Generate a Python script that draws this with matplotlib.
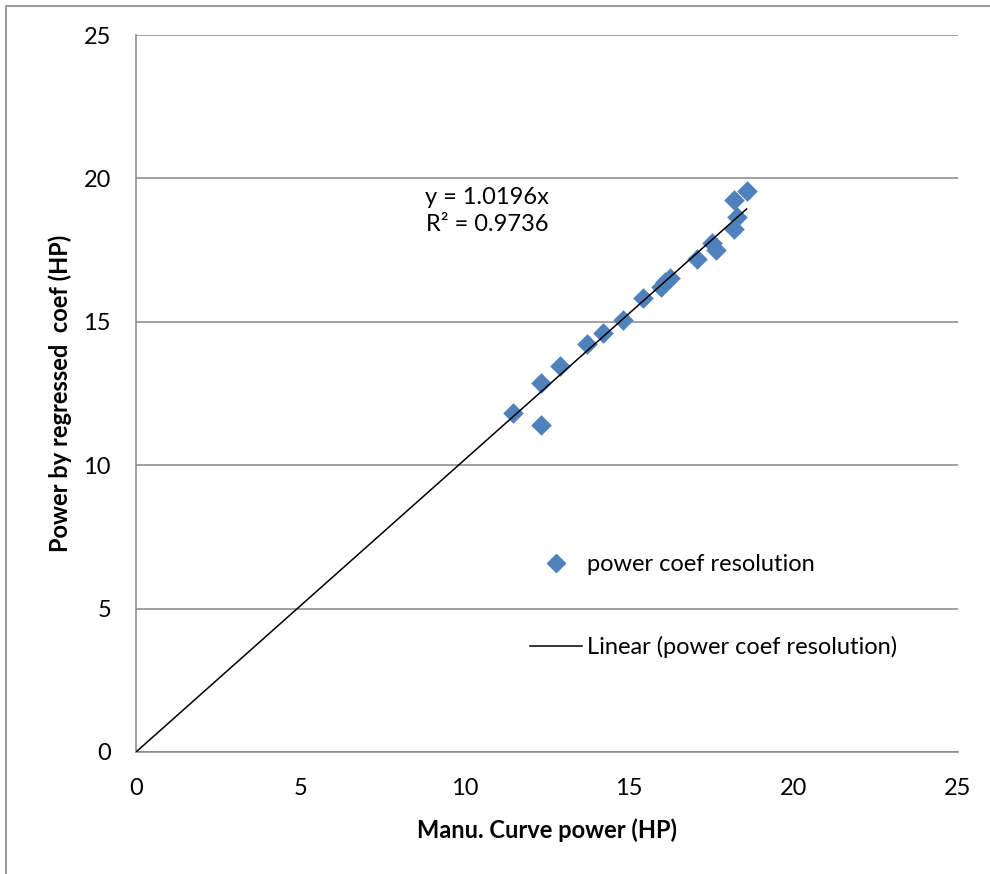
# Libraries ----------------------------------------

import numpy as np
import matplotlib
matplotlib.use("Agg")
import matplotlib.pyplot as plt
from matplotlib.lines import Line2D
from matplotlib.patches import Rectangle

plt.rcParams['font.family'] = ['Lato', 'DejaVu Sans']

# Data -------------------------------------------------------------

manu_power = [11.48, 12.31, 12.31, 12.90, 13.71, 14.21, 14.80, 15.41, 15.96,
              16.08, 16.24, 17.05, 17.51, 17.64, 18.19, 18.27, 18.19, 18.57]
regressed_power = [11.83, 11.40, 12.85, 13.46, 14.23, 14.60, 15.06, 15.84, 16.20,
                   16.40, 16.52, 17.18, 17.76, 17.50, 18.22, 18.66, 19.25, 19.57]
slope = 1.0196
r2 = 0.9736
ticks = [0, 5, 10, 15, 20, 25]

# Figure ----------------------------------------

fs = 17
fig = plt.figure(figsize=(9.9, 8.74), dpi=100)
ax = fig.add_axes([136/990, 1-752/874, (958-136)/990, (752-35)/874])

grey = '#868686'
blue = '#4F81BD'

ax.set_xlim(0, 25)
ax.set_ylim(0, 25)
ax.set_xticks(ticks)
ax.set_yticks(ticks)
ax.grid(axis='y', color=grey, lw=1.1)
ax.set_axisbelow(True)
for s in ['top', 'right']:
    ax.spines[s].set_visible(False)
for s in ['left', 'bottom']:
    ax.spines[s].set_color(grey)
    ax.spines[s].set_linewidth(1.1)
ax.tick_params(length=0, labelsize=fs)
ax.tick_params(axis='x', pad=19)
ax.tick_params(axis='y', pad=18)

ax.scatter(manu_power, regressed_power, marker='D', s=110, color=blue,
           linewidths=0, zorder=3)

x_fit = np.array([0, max(manu_power)])
ax.plot(x_fit, slope * x_fit, color='black', lw=1.1, zorder=4)

ax.set_xlabel('Manu. Curve power (HP)', fontsize=fs, fontweight='bold', labelpad=14)
ax.set_ylabel('Power by regressed  coef (HP)', fontsize=fs, fontweight='bold', labelpad=8)

fig.text(487/990, 1-211/874, f'y = {slope}x\nR² = {r2}', ha='center', va='center',
         fontsize=fs, linespacing=1.3)

handles = [Line2D([], [], marker='D', color=blue, ls='none', markersize=9),
           Line2D([], [], color='black', lw=1.1)]
ax.legend(handles, ['power coef resolution', 'Linear (power coef resolution)'],
          loc='upper left', bbox_to_anchor=(530/990, 1-554/874),
          bbox_transform=fig.transFigure, frameon=False, fontsize=fs,
          handlelength=2.2, handletextpad=0.22, labelspacing=2.6,
          borderpad=0, borderaxespad=0)

# outer chart border (only top/left visible in the crop)
fig.patches.append(Rectangle((6/990, -0.1), 1.2, 1-6/874 + 0.1,
                             transform=fig.transFigure, fill=False,
                             edgecolor=grey, lw=1.2))

fig.savefig('out.png', dpi=100)
